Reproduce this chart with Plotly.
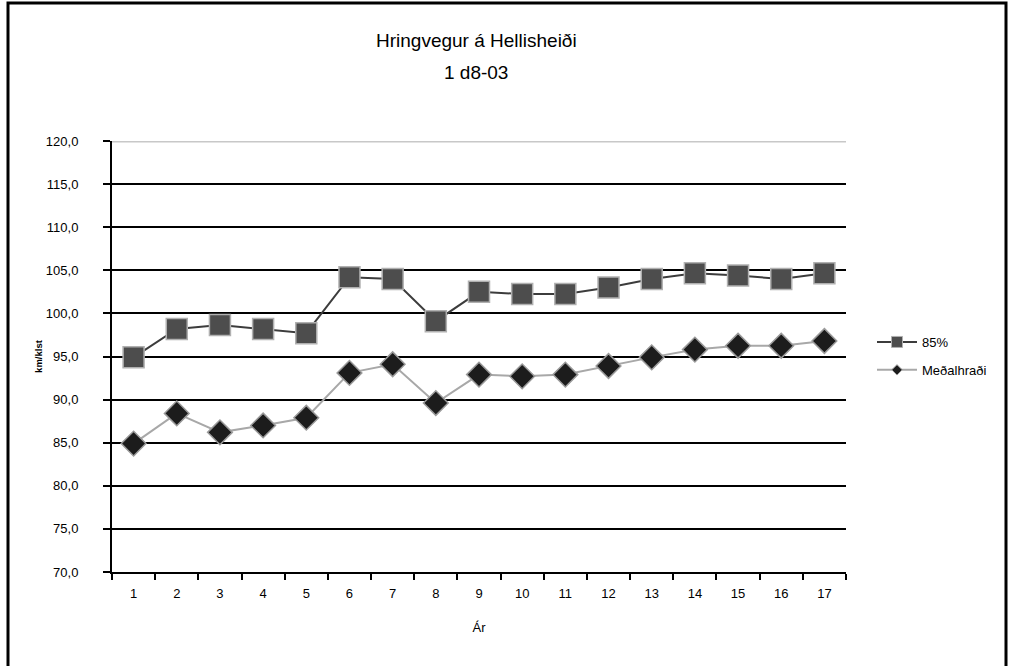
import plotly.graph_objects as go

# Year index along the x-axis
years = [str(i) for i in range(1, 18)]

# Speeds in km/klst
speed_85 = [94.9, 98.2, 98.65, 98.2, 97.7, 104.2, 104.0, 99.1, 102.5, 102.25,
            102.25, 103.0, 104.0, 104.65, 104.4, 104.0, 104.65]
speed_mean = [84.9, 88.4, 86.2, 87.0, 87.9, 93.1, 94.1, 89.6, 92.9, 92.7,
              92.9, 93.9, 94.9, 95.8, 96.25, 96.25, 96.8]

y_ticks = [70, 75, 80, 85, 90, 95, 100, 105, 110, 115, 120]
y_tick_text = [f"{v:.1f}".replace(".", ",") for v in y_ticks]

title_lines = ["Hringvegur á Hellisheiði", "1 d8-03"]

W, H = 1013, 666
L, R, T, B = 112, 167, 141, 94
pw, ph = W - L - R, H - T - B


def px_x(x):
    return (x - L) / pw


def px_y(y):
    return (H - B - y) / ph


styles = {
    "85%": dict(line=dict(color="#3c3c3c", width=2),
                marker=dict(symbol="square", size=21, color="#4d4d4d",
                            line=dict(color="#b0b0b0", width=1.5)),
                legend_marker=dict(symbol="square", size=11, color="#4d4d4d",
                                   line=dict(color="#b0b0b0", width=1))),
    "Meðalhraði": dict(line=dict(color="#a8a8a8", width=2),
                       marker=dict(symbol="diamond", size=19, color="#1c1c1c",
                                   line=dict(color="#9a9a9a", width=1.5)),
                       legend_marker=dict(symbol="diamond", size=8, color="#1c1c1c",
                                          line=dict(color="#9a9a9a", width=1))),
}

fig = go.Figure()
for name, values in [("85%", speed_85), ("Meðalhraði", speed_mean)]:
    st = styles[name]
    fig.add_trace(go.Scatter(
        x=years, y=values, name=name, mode="lines+markers",
        line=st["line"], marker=st["marker"], showlegend=False,
    ))
    # legend entry with a smaller symbol
    fig.add_trace(go.Scatter(
        x=[None], y=[None], name=name, mode="lines+markers",
        line=st["line"], marker=st["legend_marker"], legendgroup=name,
    ))

fig.update_layout(
    width=W, height=H,
    margin=dict(l=L, r=R, t=T, b=B),
    paper_bgcolor="white", plot_bgcolor="white",
    font=dict(family="Liberation Sans, Arial, sans-serif", color="black", size=13),
    showlegend=True,
    legend=dict(
        x=px_x(872), xanchor="left", y=px_y(327), yanchor="top",
        bgcolor="rgba(0,0,0,0)", font=dict(size=13, color="black"),
        tracegroupgap=8, itemwidth=40,
    ),
    xaxis=dict(
        type="category", showgrid=False, showline=True, linecolor="black",
        linewidth=2, ticks="outside", tickson="boundaries", ticklen=6,
        tickwidth=2, tickcolor="black", tickfont=dict(size=13),
        ticklabelstandoff=8,
        title=dict(text="Ár", font=dict(size=13), standoff=23),
        range=[-0.5, 16.5],
    ),
    yaxis=dict(
        range=[70, 120], tickvals=y_ticks, ticktext=y_tick_text,
        showgrid=True, gridcolor="black", gridwidth=2,
        showline=True, linecolor="black", linewidth=2,
        ticks="outside", ticklen=7, tickwidth=2, tickcolor="black",
        tickfont=dict(size=13), ticklabelstandoff=22,
        title=dict(text="<b>km/klst</b>", font=dict(size=9.5), standoff=2),
        zeroline=False,
    ),
    annotations=[
        dict(text=t, xref="paper", yref="paper", x=px_x(476), y=px_y(yc),
             xanchor="center", yanchor="middle", showarrow=False,
             font=dict(size=19, color="black",
                       family="Liberation Sans Narrow, Liberation Sans, Arial, sans-serif"))
        for t, yc in zip(title_lines, [40, 72])
    ],
    shapes=[
        # light double line along the top value
        dict(type="line", xref="paper", yref="y", x0=0, x1=1, y0=120, y1=120,
             line=dict(color="#c8c8c8", width=3), layer="above"),
        # outer frame
        dict(type="rect", xref="paper", yref="paper",
             x0=px_x(8), x1=px_x(1006), y0=px_y(670), y1=px_y(3),
             line=dict(color="black", width=3), fillcolor="rgba(0,0,0,0)"),
    ],
)

fig.write_html("out.html")
